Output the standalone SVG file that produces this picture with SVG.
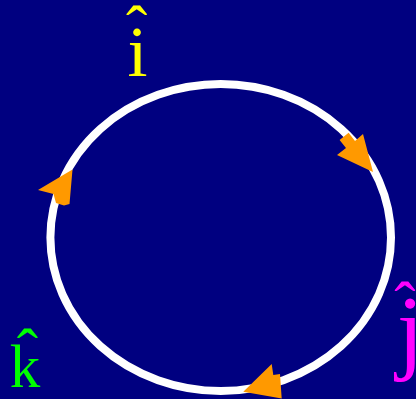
<svg xmlns="http://www.w3.org/2000/svg" width="416" height="399" viewBox="0 0 416 399">
<style>
.lbl{font-family:"Liberation Serif","Times New Roman",serif;text-anchor:middle}
.hat{font-family:"Liberation Serif","Times New Roman",serif;font-size:64px;text-anchor:middle}
.arr{fill:#FF9900}
</style>
<rect width="416" height="399" fill="#000080"/>
<g id="cycle">
<ellipse cx="220.7" cy="237.5" rx="170.3" ry="153.5" fill="none" stroke="#FFFFFF" stroke-width="8"/>
</g>
<g id="connectors">
<polygon class="arr" points="373,172 337,155 346,148 339.6,140 348.6,132.8 355,141 363,134"/>
<polygon class="arr" points="72.5,169.5 38,190 53.5,194 56,203 64,205.5 69.5,204"/>
<polygon class="arr" points="243.3,391.7 271.7,364 273.3,375 280,374 281.7,398.5"/>
</g>
<g id="label-i" fill="#FFFF00">
<text class="hat" x="136.7" y="50">ˆ</text>
<text class="lbl" x="137.5" y="76" font-size="72">i</text>
</g>
<g id="label-j" fill="#FF00FF">
<text class="hat" x="405" y="326">ˆ</text>
<text class="lbl" x="410" y="362" font-size="96">j</text>
</g>
<g id="label-k" fill="#00FF00">
<text class="hat" x="27.5" y="373">ˆ</text>
<text class="lbl" x="25" y="387" font-size="61">k</text>
</g>
</svg>
